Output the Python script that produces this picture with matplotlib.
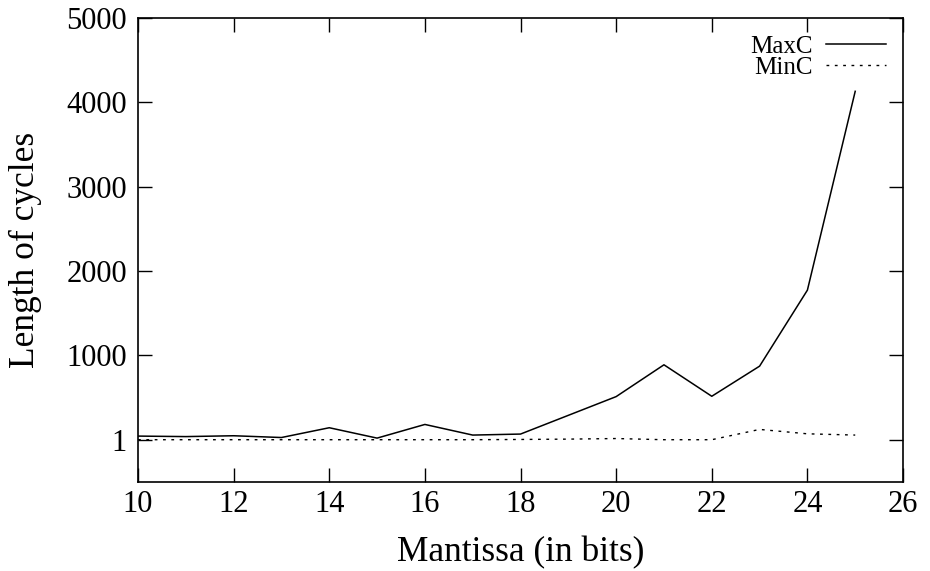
import matplotlib.pyplot as plt

# data
bits = [10, 11, 12, 13, 14, 15, 16, 17, 18, 19, 20, 21, 22, 23, 24, 25]
max_c = [44, 38, 48, 27, 143, 20, 182, 56, 68, 290, 512, 889, 516, 873, 1774, 4131]
min_c = [1, 1, 1, 1, 1, 1, 1, 1, 4, 8, 15, 1, 1, 123, 71, 56]

y_ticks = [1, 1000, 2000, 3000, 4000, 5000]
x_ticks = [10, 12, 14, 16, 18, 20, 22, 24, 26]

plt.rcParams['font.family'] = ['Liberation Serif', 'DejaVu Serif']

fig = plt.figure(figsize=(9.3, 5.71), dpi=100)
ax = fig.add_axes([0.1484, 0.1559, 0.8226, 0.8126])

ax.plot(bits, max_c, color='black', lw=1.1, label='MaxC')
ax.plot(bits, min_c, color='black', lw=1.0, dashes=(2, 4), label='MinC')

ax.set_xlim(10, 26)
ax.set_ylim(-500, 5000)
ax.set_xticks(x_ticks)
ax.set_yticks(y_ticks)
ax.set_yticklabels([str(v) for v in y_ticks])

ax.tick_params(direction='in', length=10, width=1, labelsize=22,
               top=True, right=True, pad=8)
ax.tick_params(axis='x', pad=6)
for s in ax.spines.values():
    s.set_linewidth(1.2)

ax.set_xlabel('Mantissa (in bits)', fontsize=25.5, labelpad=12)
ax.set_ylabel('Length of cycles', fontsize=25.5)
ax.yaxis.set_label_coords(-0.125, 0.5)

leg = ax.legend(loc='upper right', frameon=False, markerfirst=False,
                fontsize=18, handlelength=2.4, handletextpad=0.5,
                labelspacing=-0.05, borderaxespad=0.3)

fig.savefig('out.png', dpi=100)
